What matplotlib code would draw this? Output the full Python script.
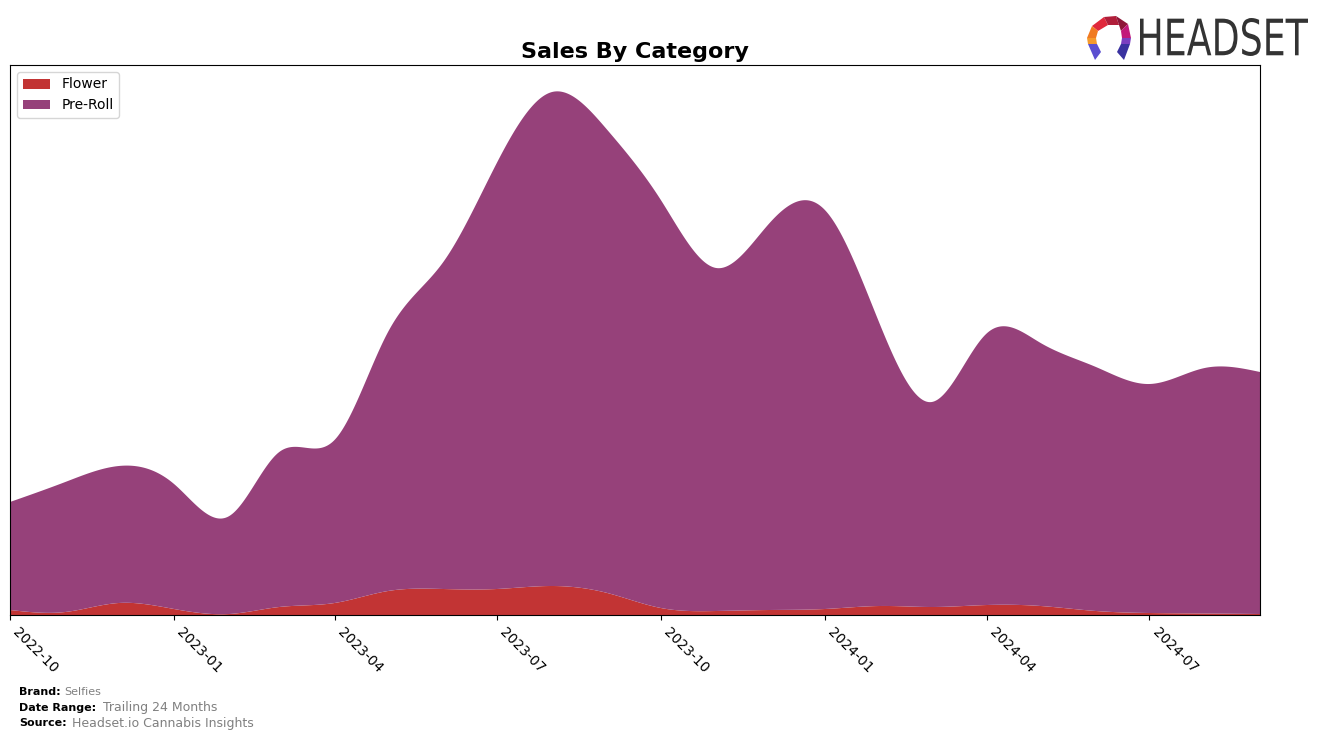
import numpy as np
import pandas as pd
import matplotlib
matplotlib.use("Agg")
import matplotlib.pyplot as plt
import matplotlib.dates as mdates
from matplotlib.patches import Polygon, PathPatch
from matplotlib.textpath import TextPath
from matplotlib.font_manager import FontProperties
from matplotlib.transforms import Affine2D, IdentityTransform

# monthly sales (arbitrary units)
months = pd.date_range("2022-10-01", periods=24, freq="MS")
flower = [5, 3, 12, 6, 1, 8, 12, 24, 26, 26, 29, 22,
          7, 4, 5, 6, 9, 8, 10, 9, 4, 2, 1.5, 1]
pre_roll = [108, 130, 137, 125, 98, 155, 163, 259, 327, 426, 494, 463,
            408, 343, 387, 399, 281, 205, 272, 263, 244, 229, 245.5, 242]
categories = ["Flower", "Pre-Roll"]
colors = ["#C23434", "#96417A"]


def natural_spline(x, y, xs):
    """natural cubic spline through (x, y), evaluated at xs"""
    x = np.asarray(x, float)
    y = np.asarray(y, float)
    n = len(x)
    h = np.diff(x)
    A = np.zeros((n, n))
    b = np.zeros(n)
    A[0, 0] = 1
    A[-1, -1] = 1
    for i in range(1, n - 1):
        A[i, i - 1] = h[i - 1]
        A[i, i] = 2 * (h[i - 1] + h[i])
        A[i, i + 1] = h[i]
        b[i] = 3 * ((y[i + 1] - y[i]) / h[i] - (y[i] - y[i - 1]) / h[i - 1])
    c = np.linalg.solve(A, b)
    bb = (y[1:] - y[:-1]) / h - h * (2 * c[:-1] + c[1:]) / 3
    d = (c[1:] - c[:-1]) / (3 * h)
    idx = np.clip(np.searchsorted(x, xs) - 1, 0, n - 2)
    t = xs - x[idx]
    return y[idx] + bb[idx] * t + c[idx] * t ** 2 + d[idx] * t ** 3


x = mdates.date2num(months)
xs = np.linspace(x[0], x[-1], 800)
flower_s = np.clip(natural_spline(x, flower, xs), 0, None)
pre_roll_s = np.clip(natural_spline(x, pre_roll, xs), 0, None)

fig = plt.figure(figsize=(13.24, 7.4), dpi=100)
ax = fig.add_axes([10 / 1324, 1 - 615 / 740, 1250 / 1324, 550 / 740])
ax.stackplot(xs, flower_s, pre_roll_s, labels=categories, colors=colors)
ax.set_xlim(x[0], x[-1])
ax.set_ylim(0, 550)
ax.set_yticks([])
ax.xaxis.set_major_locator(mdates.MonthLocator(bymonth=[1, 4, 7, 10]))
ax.xaxis.set_major_formatter(mdates.DateFormatter("%Y-%m"))
plt.setp(ax.get_xticklabels(), rotation=-45, ha="left", fontsize=10)
ax.set_title("Sales By Category", fontsize=16, fontweight="bold", pad=5)
ax.legend(loc="upper left", fontsize=10)

# footer
fig.text(19 / 1324, 1 - 692 / 740, "Brand:", fontsize=8, fontweight="bold", va="center")
fig.text(64 / 1324, 1 - 692 / 740, "Selfies", fontsize=8, color="#808080", va="center")
fig.text(19 / 1324, 1 - 708 / 740, "Date Range:", fontsize=8, fontweight="bold", va="center")
fig.text(103 / 1324, 1 - 708 / 740, "Trailing 24 Months", fontsize=9, color="#808080", va="center")
fig.text(19 / 1324, 1 - 723 / 740, "Source:", fontsize=8, fontweight="bold", va="center")
fig.text(72 / 1324, 1 - 723 / 740, "Headset.io Cannabis Insights", fontsize=9, color="#808080", va="center")

# logo: condensed "HEADSET" word squeezed into its box
tp = TextPath((0, 0), "HEADSET", size=40, prop=FontProperties(family="DejaVu Sans"))
ext = tp.get_extents()
sx = 168 / ext.width
sy = 38 / ext.height
tr = Affine2D().translate(-ext.x0, -ext.y0).scale(sx, sy).translate(1140, 740 - 56)
fig.patches.append(PathPatch(tr.transform_path(tp), transform=IdentityTransform(),
                             facecolor="#333333", edgecolor="none", figure=fig))

lax = fig.add_axes([1084 / 1324, 1 - 62 / 740, 50 / 1324, 48 / 740])
lax.set_xlim(0, 50)
lax.set_ylim(0, 48)
lax.axis("off")
shapes = [
    ([(8, 36), (20, 45), (24, 37), (14, 31)], "#E0283C"),
    ([(20, 45), (32, 46), (35, 37), (24, 37)], "#B01E3A"),
    ([(32, 46), (44, 38), (37, 31), (35, 37)], "#8E1538"),
    ([(44, 38), (47, 24), (38, 24), (37, 31)], "#C2187A"),
    ([(8, 36), (14, 31), (12, 24), (3, 24)], "#F07A22"),
    ([(3, 24), (12, 24), (13, 18), (4, 18)], "#F59A2C"),
    ([(4, 18), (13, 18), (17, 10), (11, 2)], "#5B4FD0"),
    ([(38, 24), (47, 24), (46, 18), (37, 18)], "#7A3FC0"),
    ([(37, 18), (46, 18), (40, 2), (33, 10)], "#3A32A0"),
]
for pts, col in shapes:
    lax.add_patch(Polygon(pts, closed=True, color=col, lw=0))

fig.savefig("out.png", dpi=100)
